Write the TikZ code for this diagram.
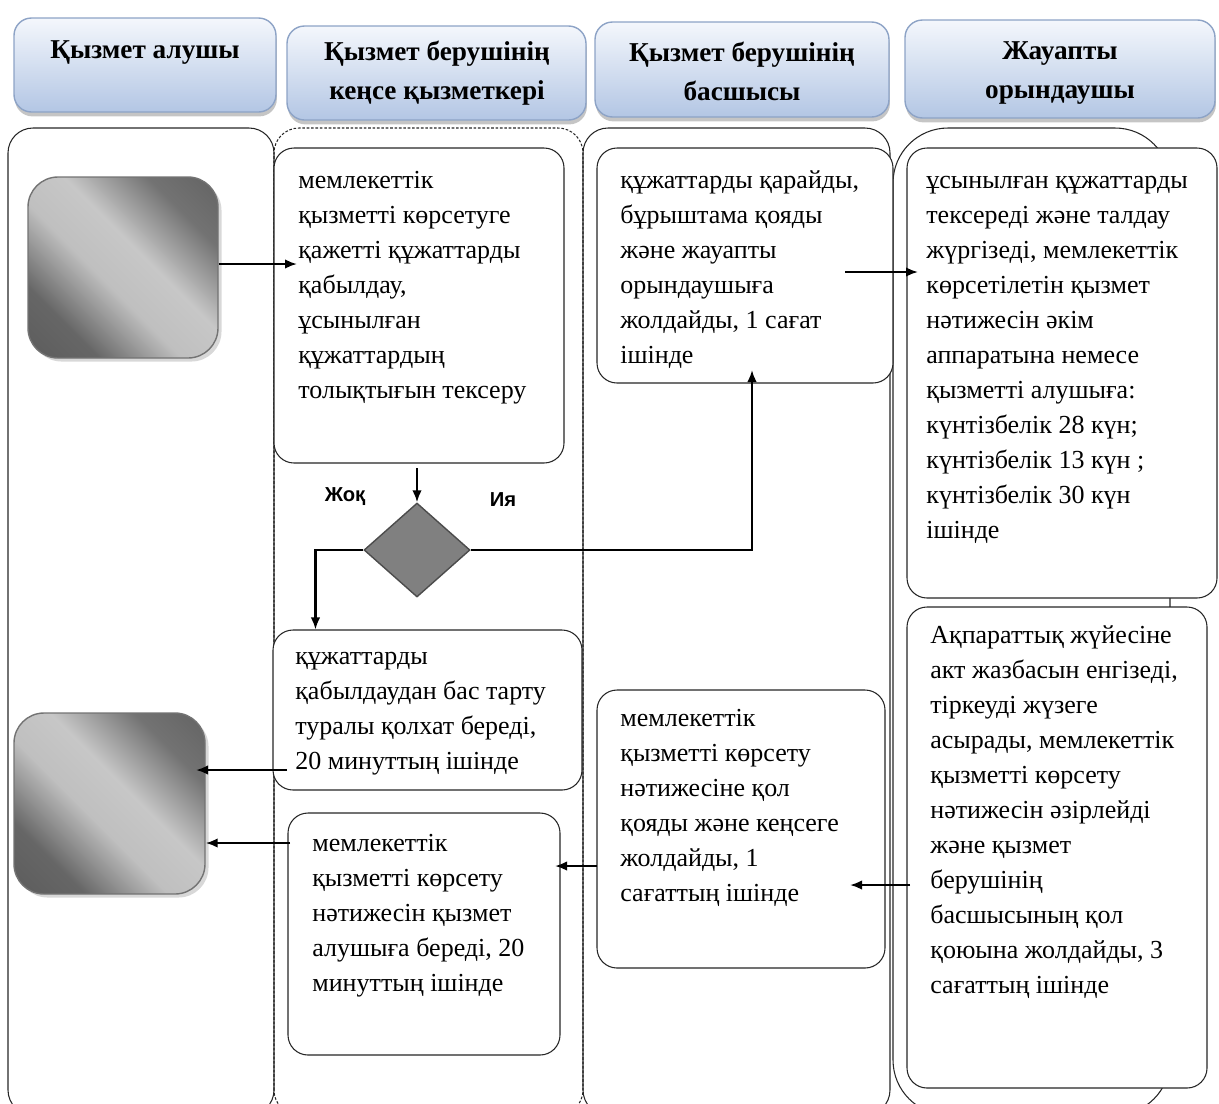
\documentclass[tikz,border=0pt]{standalone}
\usepackage{fontspec}
\setmainfont{Liberation Serif}
\newfontfamily\lsans{Liberation Sans}
\usetikzlibrary{shapes.geometric,arrows.meta,fit,calc,shadows}
\definecolor{hdtop}{HTML}{F4F7FC}
\definecolor{hdbot}{HTML}{B3C6E4}
\definecolor{hdline}{HTML}{8DA3C6}
\pgfdeclareverticalshading{grayband}{100bp}{color(0bp)=(black!68); color(28bp)=(black!60); color(44bp)=(black!25); color(56bp)=(black!22); color(72bp)=(black!55); color(100bp)=(black!68)}
\begin{document}
\begin{tikzpicture}[x=0.02cm,y=-0.02cm,
  lane/.style={draw=black!85, line width=0.6pt, rounded corners=0.5cm},
  dlane/.style={lane, dash pattern=on 1.5pt off 1pt},
  procbox/.style={draw=black!85, line width=0.6pt, fill=white, rounded corners=0.4cm, inner sep=0pt},
  hdbox/.style={draw=hdline, line width=0.8pt, rounded corners=0.35cm, inner sep=0pt,
     top color=hdtop, bottom color=hdbot, drop shadow={shadow xshift=0.5pt, shadow yshift=-2.5pt, fill=black!45}},
  graybox/.style={draw=black!55, line width=0.8pt, rounded corners=0.6cm, inner sep=0pt,
     shading=grayband, shading angle=-45,
     drop shadow={shadow xshift=2pt, shadow yshift=-2pt, fill=black!30}},
  txt/.style={anchor=north west, inner sep=0pt, align=left, font=\fontsize{14.8}{19.9}\selectfont},
  hdtxt/.style={anchor=north, inner sep=0pt, align=center, font=\fontsize{15.5}{22.5}\selectfont\bfseries},
  arr/.style={line width=1.2pt, -{Latex[length=2.4mm,width=1.9mm]}},
  lbl/.style={inner sep=0pt, font=\lsans\bfseries\fontsize{11.5}{13}\selectfont}
]
\useasboundingbox (0,0) rectangle (1219,1103);
% headers
\node[hdbox, fit={(14,18)(276,112)}] (h1) {};
\node[hdbox, fit={(287,26)(586,120)}] (h2) {};
\node[hdbox, fit={(595,22)(889,117)}] (h3) {};
\node[hdbox, fit={(905,20)(1215,118)}] (h4) {};
\node[hdtxt] (h1t) at (145,30) {\strut Қызмет алушы};
\node[hdtxt] (h2t) at (437,32) {\strut Қызмет берушінің\\кеңсе қызметкері};
\node[hdtxt] (h3t) at (742,33) {\strut Қызмет берушінің\\басшысы};
\node[hdtxt] (h4t) at (1060,31) {\strut Жауапты\\орындаушы};
% lanes
\draw[lane] (8,1115) rectangle (274,128);
\draw[dlane] (274,1115) rectangle (583,128);
\draw[lane] (583,1115) rectangle (890,128);
\draw[lane, rounded corners=1.1cm] (893,1115) rectangle (1170,128);
% gray terminals
\node[graybox, fit={(28,177)(218,358)}] (g1) {};
\node[graybox, fit={(14,713)(205,894)}] (g2) {};
% process boxes
\node[procbox, fit={(274,148)(564,463)}] (b1) {};
\node[procbox, fit={(597,148)(893,383)}] (b2) {};
\node[procbox, fit={(907,148)(1217,598)}] (b3) {};
\node[procbox, fit={(273,630)(582,790)}] (b4) {};
\node[procbox, fit={(288,813)(560,1055)}] (b5) {};
\node[procbox, fit={(597,690)(885,968)}] (b6) {};
\node[procbox, fit={(907,607)(1207,1088)}] (b7) {};
% texts
\node[txt] (t1) at (298,164) {\strut мемлекеттік\\қызметті көрсетуге\\қажетті құжаттарды\\қабылдау,\\ұсынылған\\құжаттардың\\толықтығын тексеру};
\node[txt] (t2) at (620,164) {\strut құжаттарды қарайды,\\бұрыштама қояды\\және жауапты\\орындаушыға\\жолдайды, 1 сағат\\ішінде};
\node[txt] (t3) at (926,164) {\strut ұсынылған құжаттарды\\тексереді және талдау\\жүргізеді, мемлекеттік\\көрсетілетін қызмет\\нәтижесін әкім\\аппаратына немесе\\қызметті алушыға:\\күнтізбелік 28 күн;\\күнтізбелік 13 күн ;\\күнтізбелік 30 күн\\ішінде};
\node[txt] (t4) at (295,640) {\strut құжаттарды\\қабылдаудан бас тарту\\туралы қолхат береді,\\20 минуттың ішінде};
\node[txt] (t5) at (312,827) {\strut мемлекеттік\\қызметті көрсету\\нәтижесін қызмет\\алушыға береді, 20\\минуттың ішінде};
\node[txt] (t6) at (620,702) {\strut мемлекеттік\\қызметті көрсету\\нәтижесіне қол\\қояды және кеңсеге\\жолдайды, 1\\сағаттың ішінде};
\node[txt] (t7) at (930,619) {\strut Ақпараттық жүйесіне\\акт жазбасын енгізеді,\\тіркеуді жүзеге\\асырады, мемлекеттік\\қызметті көрсету\\нәтижесін әзірлейді\\және қызмет\\берушінің\\басшысының қол\\қоюына жолдайды, 3\\сағаттың ішінде};
% decision
\node[diamond, draw=black!70, line width=0.8pt, fill=black!50, inner sep=0pt, minimum width=2.12cm, minimum height=1.88cm] (d) at (417,550) {};
\node[lbl] (no) at (345,497) {Жоқ};
\node[lbl] (yes) at (503,500) {Ия};
% connectors
\coordinate (a1) at (297,264);
\draw[arr] (g1.east |- a1) -- (a1);
\coordinate (a2) at (417,468);
\draw[arr] (a2) -- (d.north);
\draw[arr] (d.west) -| ($(b4.north west)+(43,0)$);
\coordinate (a3) at (752,370);
\draw[arr] (d.east) -| (a3);
\coordinate (a4s) at (845,272);
\coordinate (a4e) at (918,272);
\draw[arr] (a4s) -- (a4e);
\coordinate (a5s) at (287,770);
\coordinate (a5e) at (196,770);
\draw[arr] (a5s) -- (a5e);
\coordinate (a6s) at (290,843);
\draw[arr] (a6s) -- (g2.east |- a6s);
\coordinate (a7s) at (910,885);
\coordinate (a7e) at (850,885);
\draw[arr] (a7s) -- (a7e);
\coordinate (a8s) at (597,866);
\coordinate (a8e) at (555,866);
\draw[arr] (a8s) -- (a8e);
\end{tikzpicture}
\end{document}
